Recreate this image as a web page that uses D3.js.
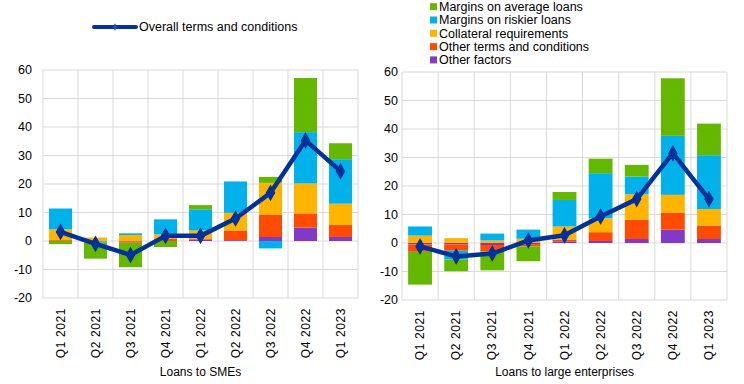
<!DOCTYPE html>
<html>
<head>
<meta charset="utf-8">
<script src="https://cdn.jsdelivr.net/npm/d3@7"></script>
<style>
  body { margin: 0; background: #fff; }
  text { font-family: "Liberation Sans", Arial, sans-serif; }
</style>
</head>
<body>
<script>
var quarters = ["Q1 2021", "Q2 2021", "Q3 2021", "Q4 2021", "Q1 2022", "Q2 2022", "Q3 2022", "Q4 2022", "Q1 2023"];
var seriesNames = ["Other factors", "Other terms and conditions", "Collateral requirements", "Margins on riskier loans", "Margins on average loans"];
var seriesColors = ["#8139c6", "#ff4b00", "#ffb400", "#00b1ea", "#65b800"];
var yTicks = [-20, -10, 0, 10, 20, 30, 40, 50, 60];

// loans to SMEs
var smeOther     = [0, 0, -0.2, 0, 0.5, 0.3, 1.4, 4.7, 1.4];
var smeTerms     = [0.3, -0.1, -0.4, 0.9, 0.4, 3.4, 7.9, 5.0, 4.2];
var smeColl      = [3.8, 1.2, 2.1, 1.4, 2.8, 6.2, 11.1, 10.5, 7.5];
var smeRiskier   = [7.3, -0.5, 0.6, 5.3, 7.4, 11.0, -2.6, 18.0, 15.6];
var smeAverage   = [-1.1, -5.6, -8.6, -2.1, 1.5, 0, 2.1, 19.0, 5.6];
var smeOverall   = [3.2, -1.0, -4.9, 1.8, 1.8, 7.9, 16.9, 35.3, 24.5];

// loans to large enterprises
var largeOther   = [-0.5, -0.5, -0.7, -0.4, 0.6, 0.7, 1.4, 4.7, 1.4];
var largeTerms   = [-2.6, -2.2, -2.2, -0.8, 0.6, 3.1, 6.8, 6.0, 4.7];
var largeColl    = [2.6, 1.7, 0.9, 1.5, 4.6, 4.9, 8.9, 6.2, 5.8];
var largeRiskier = [3.2, -3.1, 2.4, 3.2, 9.3, 15.8, 6.2, 20.7, 18.9];
var largeAverage = [-11.5, -4.1, -6.7, -5.2, 2.8, 5.1, 4.1, 20.2, 11.1];
var largeOverall = [-1.2, -4.7, -3.7, 0.9, 2.7, 9.3, 15.4, 31.5, 15.4];

var svg = d3.select("body").append("svg")
    .attr("width", 744)
    .attr("height", 384);

function drawPanel(cfg) {
  var series = cfg.series;
  var rows = quarters.map(function(q, i) {
    var r = { q: q };
    series.forEach(function(s, k) { r[k] = s[i]; });
    return r;
  });
  var keys = d3.range(series.length);
  var stacked = d3.stack().keys(keys).offset(d3.stackOffsetDiverging)(rows);

  var x = d3.scaleBand().domain(quarters).range([cfg.left, cfg.right]).paddingInner(0.34).paddingOuter(0.17);
  var y = d3.scaleLinear().domain([-20, 60]).range([cfg.bottom, cfg.top]);
  var step = x.step();
  var g = svg.append("g");

  // horizontal grid
  g.selectAll(".hgrid").data(yTicks).enter().append("line")
      .attr("x1", cfg.left).attr("x2", cfg.right)
      .attr("y1", function(d) { return y(d); })
      .attr("y2", function(d) { return y(d); })
      .attr("stroke", "#d9d9d9").attr("stroke-width", 1);

  // vertical grid at band boundaries
  g.selectAll(".vgrid").data(d3.range(quarters.length + 1)).enter().append("line")
      .attr("x1", function(i) { return cfg.left + i * step; })
      .attr("x2", function(i) { return cfg.left + i * step; })
      .attr("y1", cfg.top).attr("y2", cfg.bottom)
      .attr("stroke", "#d9d9d9").attr("stroke-width", 1);

  // bars
  g.selectAll(".layer").data(stacked).enter().append("g")
      .attr("fill", function(d, k) { return seriesColors[k]; })
    .selectAll("rect").data(function(d) { return d; }).enter().append("rect")
      .attr("x", function(d) { return x(d.data.q); })
      .attr("width", x.bandwidth())
      .attr("y", function(d) { return y(Math.max(d[0], d[1])); })
      .attr("height", function(d) { return Math.abs(y(d[0]) - y(d[1])); });

  // y axis labels
  g.selectAll(".ylab").data(yTicks).enter().append("text")
      .attr("x", cfg.labelX)
      .attr("y", function(d) { return y(d); })
      .attr("dy", "0.35em")
      .attr("text-anchor", "end")
      .attr("font-size", 12.5)
      .attr("fill", "#000")
      .text(function(d) { return d; });

  // x axis labels
  g.selectAll(".xlab").data(quarters).enter().append("text")
      .attr("transform", function(d) {
        return "translate(" + (x(d) + x.bandwidth() / 2) + "," + (cfg.bottom + 10) + ") rotate(-90)";
      })
      .attr("dy", "0.35em")
      .attr("text-anchor", "end")
      .attr("font-size", 12)
      .attr("letter-spacing", 0.6)
      .attr("fill", "#000")
      .text(function(d) { return d; });

  g.append("text")
      .attr("x", (cfg.left + cfg.right) / 2)
      .attr("y", 376)
      .attr("text-anchor", "middle")
      .attr("font-size", 12)
      .attr("fill", "#000")
      .text(cfg.title);

  // overall line
  var line = d3.line()
      .x(function(d, i) { return x(quarters[i]) + x.bandwidth() / 2; })
      .y(function(d) { return y(d); });
  g.append("path")
      .datum(cfg.overall)
      .attr("d", line)
      .attr("fill", "none")
      .attr("stroke", "#003299")
      .attr("stroke-width", 4.5)
      .attr("stroke-linejoin", "round");
  g.selectAll(".marker").data(cfg.overall).enter().append("path")
      .attr("d", d3.symbol().type(d3.symbolDiamond).size(80))
      .attr("transform", function(d, i) {
        return "translate(" + (x(quarters[i]) + x.bandwidth() / 2) + "," + y(d) + ")";
      })
      .attr("fill", "#003299");
}

drawPanel({
  series: [smeOther, smeTerms, smeColl, smeRiskier, smeAverage],
  overall: smeOverall,
  left: 43, right: 358, top: 70, bottom: 298, labelX: 32,
  title: "Loans to SMEs"
});

drawPanel({
  series: [largeOther, largeTerms, largeColl, largeRiskier, largeAverage],
  overall: largeOverall,
  left: 402, right: 727, top: 72, bottom: 300, labelX: 398,
  title: "Loans to large enterprises"
});

// legend: overall line
var lg = svg.append("g");
lg.append("line")
    .attr("x1", 94).attr("x2", 136).attr("y1", 27).attr("y2", 27)
    .attr("stroke", "#003299").attr("stroke-width", 4).attr("stroke-linecap", "round");
lg.append("path")
    .attr("d", d3.symbol().type(d3.symbolDiamond).size(16))
    .attr("transform", "translate(115,27)")
    .attr("fill", "#1f4fb0");
lg.append("text")
    .attr("x", 139).attr("y", 27).attr("dy", "0.35em")
    .attr("font-size", 12.5).attr("fill", "#000")
    .text("Overall terms and conditions");

// legend: components (top to bottom in reverse stacking order)
var legendOrder = [4, 3, 2, 1, 0];
var items = svg.append("g").selectAll("g").data(legendOrder).enter().append("g")
    .attr("transform", function(d, i) { return "translate(430," + (6.7 + i * 13.3) + ")"; });
items.append("rect")
    .attr("x", 0).attr("y", -3.5).attr("width", 7).attr("height", 7)
    .attr("fill", function(k) { return seriesColors[k]; });
items.append("text")
    .attr("x", 9).attr("dy", "0.35em")
    .attr("font-size", 12.5).attr("fill", "#000")
    .text(function(k) { return seriesNames[k]; });
</script>
</body>
</html>
